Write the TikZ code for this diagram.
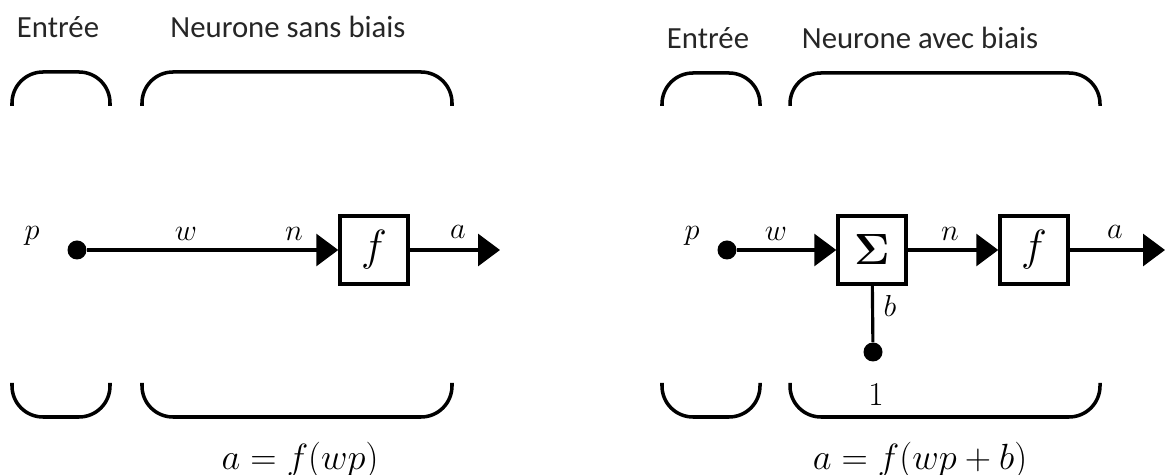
\documentclass[tikz,border=0pt]{standalone}
\usepackage{fontspec}
\newfontfamily\headfont{Carlito}
\usetikzlibrary{arrows.meta}
\tikzset{
  brace/.style={line width=2pt, rounded corners=0.62cm},
  flow/.style={line width=1.8pt, -{Triangle[length=0.44cm,width=0.64cm]}},
  unit/.style={draw, line width=2pt, minimum size=1.36cm, inner sep=0pt},
  dot/.style={circle, fill, minimum size=0.38cm, inner sep=0pt},
  head/.style={font=\headfont\fontsize{17.5}{20}\selectfont, text=black!85},
  lab/.style={font=\fontsize{19}{21}\selectfont}
}
\begin{document}
\begin{tikzpicture}[x=0.02cm, y=-0.02cm]
\useasboundingbox (0,0) rectangle (1167,475);
% neurone sans biais
\node[head] at (58,27) {Entrée};
\node[head] at (288,27) {Neurone sans biais};
\draw[brace] (12,106)--(12,72)--(110,72)--(110,106);
\draw[brace] (142,106)--(142,72)--(452,72)--(452,106);
\draw[brace] (12,383)--(12,417)--(110,417)--(110,383);
\draw[brace] (142,383)--(142,417)--(452,417)--(452,383);
\node[dot] (p1) at (77,250) {};
\node[unit, font=\fontsize{29}{30}\selectfont] (f1) at (374,250) {$f$};
\coordinate (a1) at (500,250);
\draw[flow] (p1) -- (f1);
\draw[flow] (f1) -- (a1);
\node[lab] at (32,236) {$p$};
\node[lab] at (186,234) {$w$};
\node[lab] at (294,234) {$n$};
\node[lab] at (458,232) {$a$};
\node[lab, font=\fontsize{20}{22}\selectfont] at (300,460) {$a = f(wp)$};
% neurone avec biais
\node[head] at (708,38) {Entrée};
\node[head] at (920,38) {Neurone avec biais};
\draw[brace] (662,106)--(662,73)--(760,73)--(760,106);
\draw[brace] (790,106)--(790,73)--(1100,73)--(1100,106);
\draw[brace] (662,383)--(662,417)--(760,417)--(760,383);
\draw[brace] (790,383)--(790,417)--(1100,417)--(1100,383);
\node[dot] (p2) at (727,250) {};
\node[unit, font=\fontsize{34}{36}\selectfont\boldmath] (s2) at (872,250) {$\Sigma$};
\node[unit, font=\fontsize{29}{30}\selectfont] (f2) at (1034,250) {$f$};
\node[dot] (b2) at (873,352) {};
\coordinate (a2) at (1165,250);
\draw[flow] (p2) -- (s2);
\draw[flow] (s2) -- (f2);
\draw[flow] (f2) -- (a2);
\draw[line width=1.8pt] (s2) -- (b2);
\node[lab] at (692,236) {$p$};
\node[lab] at (776,234) {$w$};
\node[lab] at (950,234) {$n$};
\node[lab] at (1115,232) {$a$};
\node[lab] at (890,306) {$b$};
\node[lab] at (876,394) {1};
\node[lab, font=\fontsize{20}{22}\selectfont] at (920,460) {$a = f(wp+b)$};
\end{tikzpicture}
\end{document}
